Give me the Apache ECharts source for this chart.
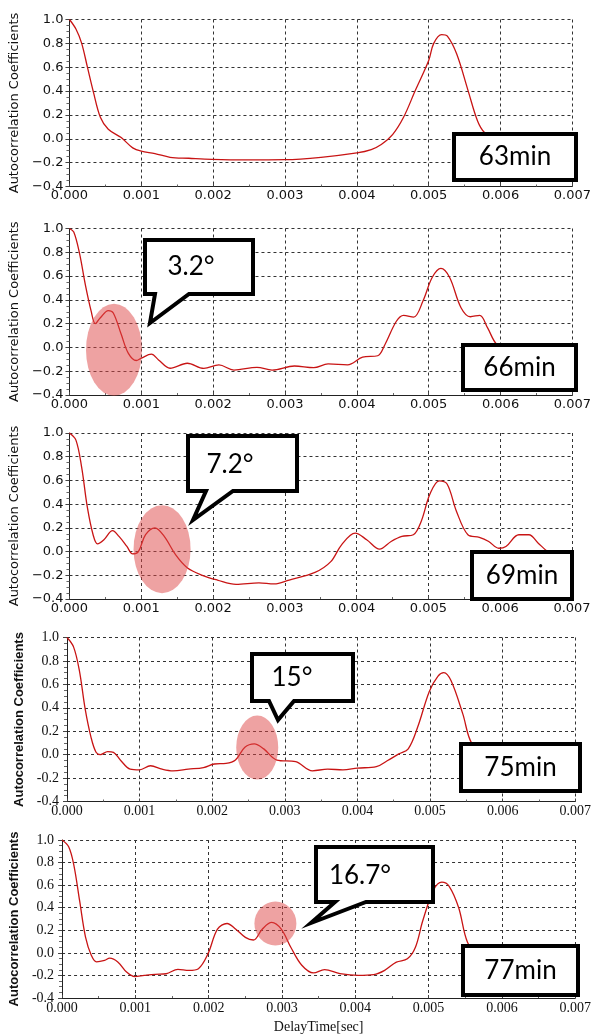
<!DOCTYPE html>
<html>
<head>
<meta charset="utf-8">
<script src="https://cdn.jsdelivr.net/npm/echarts@6/dist/echarts.min.js"></script>
<style>
  html, body { margin: 0; padding: 0; background: #ffffff; }
  #chart { width: 594px; height: 1035px; }
</style>
</head>
<body>
<div id="chart"></div>
<script>
// Autocorrelation of the signal at five elapsed times (delay in seconds)
const xTicks = [0, 0.001, 0.002, 0.003, 0.004, 0.005, 0.006, 0.007];
const yTicks = [-0.4, -0.2, 0.0, 0.2, 0.4, 0.6, 0.8, 1.0];
const timeLabels = ['63min', '66min', '69min', '75min', '77min'];
const angleLabels = [null, '3.2°', '7.2°', '15°', '16.7°'];

const delay63 = [0, 0.00009, 0.00017, 0.00025, 0.00033, 0.00043, 0.00054, 0.00072, 0.00088, 0.001, 0.00119, 0.0014, 0.00166, 0.00198, 0.00245, 0.003, 0.0035, 0.004, 0.0042, 0.00434, 0.0045, 0.00465, 0.00481, 0.005, 0.00507, 0.00518, 0.00526, 0.00539, 0.00555, 0.00568, 0.00578, 0.006, 0.0065, 0.007];
const coef63 = [1.0, 0.92, 0.80, 0.60, 0.40, 0.18, 0.08, 0.01, -0.076, -0.104, -0.124, -0.155, -0.163, -0.172, -0.177, -0.175, -0.155, -0.118, -0.09, -0.048, 0.037, 0.18, 0.40, 0.656, 0.80, 0.873, 0.86, 0.71, 0.40, 0.15, 0.05, -0.05, -0.12, -0.15];

const delay66 = [0, 0.00006, 0.00014, 0.00022, 0.0003, 0.00036, 0.00043, 0.00054, 0.00061, 0.00072, 0.00082, 0.00093, 0.001, 0.00114, 0.00124, 0.0014, 0.00164, 0.00187, 0.00208, 0.00229, 0.00261, 0.00282, 0.00313, 0.0034, 0.0036, 0.00387, 0.00408, 0.00429, 0.00439, 0.00455, 0.00465, 0.00479, 0.00492, 0.00505, 0.00517, 0.00529, 0.00545, 0.00558, 0.00571, 0.00582, 0.00595, 0.0062, 0.0066, 0.007];
const coef66 = [1.0, 0.97, 0.79, 0.53, 0.31, 0.20, 0.25, 0.31, 0.29, 0.11, -0.05, -0.11, -0.09, -0.057, -0.105, -0.175, -0.133, -0.176, -0.147, -0.19, -0.167, -0.19, -0.156, -0.17, -0.139, -0.147, -0.082, -0.07, 0.023, 0.22, 0.27, 0.255, 0.39, 0.59, 0.665, 0.59, 0.334, 0.258, 0.27, 0.164, 0.023, -0.07, -0.1, -0.1];

const delay69 = [0, 0.00009, 0.00017, 0.00025, 0.00033, 0.00039, 0.00048, 0.0006, 0.00069, 0.0008, 0.00088, 0.00096, 0.00106, 0.00119, 0.00132, 0.00148, 0.00164, 0.00185, 0.00206, 0.00232, 0.00264, 0.00285, 0.00306, 0.00342, 0.00364, 0.00379, 0.00398, 0.00414, 0.00432, 0.00448, 0.00463, 0.00479, 0.0049, 0.00502, 0.00515, 0.00526, 0.00539, 0.00555, 0.00571, 0.00584, 0.00598, 0.00608, 0.00626, 0.0064, 0.00653, 0.00666, 0.0068, 0.007];
const coef69 = [1.0, 0.94, 0.71, 0.37, 0.14, 0.065, 0.10, 0.176, 0.128, 0.043, -0.02, 0.0, 0.142, 0.20, 0.128, -0.028, -0.136, -0.20, -0.24, -0.276, -0.264, -0.273, -0.24, -0.176, -0.085, 0.057, 0.156, 0.10, 0.02, 0.085, 0.128, 0.142, 0.256, 0.483, 0.597, 0.57, 0.341, 0.142, 0.12, 0.085, 0.028, 0.043, 0.142, 0.142, 0.071, 0.0, -0.05, -0.08];

const delay75 = [0, 0.00009, 0.00017, 0.00025, 0.00033, 0.0004, 0.00046, 0.00056, 0.00064, 0.00074, 0.00087, 0.001, 0.00115, 0.00131, 0.00146, 0.00167, 0.00188, 0.00203, 0.00219, 0.00232, 0.00245, 0.00258, 0.00271, 0.00289, 0.00315, 0.00338, 0.00359, 0.0038, 0.004, 0.00426, 0.00441, 0.00457, 0.0047, 0.00483, 0.00499, 0.00511, 0.00519, 0.00529, 0.00545, 0.00558, 0.0058, 0.006, 0.0065, 0.007];
const coef75 = [1.0, 0.92, 0.72, 0.39, 0.15, 0.02, 0.0, 0.026, 0.02, -0.05, -0.124, -0.13, -0.095, -0.124, -0.138, -0.124, -0.11, -0.08, -0.075, -0.046, 0.063, 0.092, 0.049, -0.046, -0.06, -0.138, -0.124, -0.13, -0.115, -0.103, -0.052, 0.006, 0.05, 0.236, 0.54, 0.67, 0.70, 0.63, 0.35, 0.09, 0.0, -0.08, -0.12, -0.13];

const delay77 = [0, 0.00009, 0.00016, 0.00024, 0.00032, 0.0004, 0.00047, 0.00058, 0.00065, 0.00076, 0.00088, 0.00099, 0.00112, 0.00127, 0.00142, 0.00158, 0.00173, 0.00186, 0.00199, 0.00212, 0.00225, 0.00237, 0.0025, 0.00261, 0.00273, 0.00286, 0.00299, 0.00312, 0.00327, 0.00343, 0.00358, 0.00379, 0.00404, 0.00425, 0.0044, 0.00456, 0.00471, 0.00482, 0.00492, 0.00507, 0.00518, 0.00528, 0.00541, 0.00553, 0.0057, 0.006, 0.0065, 0.007];
const coef77 = [1.0, 0.94, 0.78, 0.46, 0.14, -0.023, -0.08, -0.067, -0.047, -0.08, -0.17, -0.21, -0.20, -0.19, -0.185, -0.146, -0.155, -0.14, -0.009, 0.21, 0.26, 0.21, 0.137, 0.114, 0.21, 0.27, 0.21, 0.05, -0.11, -0.178, -0.149, -0.184, -0.20, -0.193, -0.155, -0.082, -0.053, 0.05, 0.284, 0.56, 0.626, 0.59, 0.40, 0.094, -0.05, -0.15, -0.2, -0.2];

// Highlighted feature in each panel, in data coordinates
const highlightAt = [null, [0.00062, -0.02], [0.00129, 0.02], [0.00262, 0.06], [0.00291, 0.26]];

const delays = [delay63, delay66, delay69, delay75, delay77];
const coefs = [coef63, coef66, coef69, coef75, coef77];

// Panel layout (pixels) and typography
const panels = [
  { left: 69,  right: 19,  top: 19.5, height: 167, font: 'DejaVu Sans', size: 13, minus: '\u2212', margin: 6, titleFont: 'DejaVu Sans', titleWeight: 'normal', titleSize: 13, gap: 47 },
  { left: 69,  right: 19,  top: 228.5, height: 166.5, font: 'DejaVu Sans', size: 13, minus: '\u2212', margin: 6, titleFont: 'DejaVu Sans', titleWeight: 'normal', titleSize: 13, gap: 47 },
  { left: 67.5, right: 22, top: 433, height: 166, font: 'DejaVu Sans', size: 13, minus: '\u2212', margin: 6, titleFont: 'DejaVu Sans', titleWeight: 'normal', titleSize: 13, gap: 46 },
  { left: 67,  right: 14.5, top: 637.5, height: 164, font: 'Liberation Serif', size: 14, minus: '-', margin: 8, titleFont: 'Liberation Sans', titleWeight: 'bold', titleSize: 13, gap: 39 },
  { left: 62,  right: 16.5, top: 840, height: 160, font: 'Liberation Serif', size: 14, minus: '-', margin: 8, titleFont: 'Liberation Sans', titleWeight: 'bold', titleSize: 13, gap: 38 }
];

// Callout boxes and speech bubbles (pixels)
const boxes = [
  [454, 134, 576, 180],
  [463, 345, 576, 390],
  [472, 552, 572, 599],
  [461, 744, 580, 791],
  [463, 946, 578, 995]
];
const bubbles = [
  null,
  { r: [145, 240, 253, 294], base: [155, 189], tip: [150, 323], text: [191, 267] },
  { r: [188, 436, 297, 491], base: [206, 233], tip: [193, 520], text: [230, 465] },
  { r: [252, 654, 353, 701], base: [269, 294], tip: [278, 720], text: [292, 678] },
  { r: [316, 847, 433, 902], base: [335, 366], tip: [311, 923], text: [360, 876] }
];
const ellipseSize = [null, [28, 46], [28.5, 44], [21, 32], [21, 22]];

const grids = [], xAxes = [], yAxes = [], series = [];
panels.forEach((p, i) => {
  grids.push({ left: p.left, right: p.right, top: p.top, height: p.height });
  const lab = { fontFamily: p.font, fontSize: p.size, color: '#111' };
  xAxes.push({
    type: 'value', gridIndex: i, min: xTicks[0], max: xTicks[xTicks.length - 1], interval: 0.001,
    axisLine: { onZero: false, lineStyle: { color: '#222', width: 1 } },
    axisTick: { show: true, inside: true, length: 3, lineStyle: { color: '#444' } },
    minorTick: { show: true, splitNumber: 2, length: 2, lineStyle: { color: '#666' } },
    axisLabel: Object.assign({ margin: 3, formatter: v => v.toFixed(3) }, lab),
    splitLine: { show: true, lineStyle: { color: '#333', type: [3, 3], width: 1 } },
    name: i === 4 ? 'DelayTime[sec]' : '',
    nameLocation: 'middle', nameGap: 22,
    nameTextStyle: { fontFamily: 'Liberation Serif', fontSize: 14, color: '#111' }
  });
  yAxes.push({
    type: 'value', gridIndex: i, min: yTicks[0], max: yTicks[yTicks.length - 1], interval: 0.2,
    axisLine: { lineStyle: { color: '#222', width: 1 } },
    axisTick: { show: true, length: 4, lineStyle: { color: '#444' } },
    minorTick: { show: true, splitNumber: 4, length: 3, lineStyle: { color: '#666' } },
    axisLabel: Object.assign({ margin: p.margin, formatter: v => (v < 0 ? p.minus : '') + Math.abs(v).toFixed(1) }, lab),
    splitLine: { show: true, lineStyle: { color: '#333', type: [3, 3], width: 1 } },
    name: 'Autocorrelation Coefficients', nameLocation: 'middle', nameGap: p.gap, nameRotate: 90,
    nameTextStyle: { fontFamily: p.titleFont, fontSize: p.titleSize, fontWeight: p.titleWeight, color: '#111' }
  });
  series.push({
    type: 'line', xAxisIndex: i, yAxisIndex: i,
    data: delays[i].map((t, k) => [t, coefs[i][k]]),
    smooth: 0.35, showSymbol: false, symbol: 'none',
    lineStyle: { color: '#c81414', width: 1.3 },
    z: 3
  });
});

const chart = echarts.init(document.getElementById('chart'), null, { renderer: 'canvas' });
chart.setOption({
  animation: false,
  backgroundColor: '#ffffff',
  grid: grids, xAxis: xAxes, yAxis: yAxes, series: series
});

// Annotations
const elements = [];
highlightAt.forEach((pt, i) => {
  if (!pt) return;
  const c = chart.convertToPixel({ gridIndex: i }, pt);
  elements.push({
    type: 'circle', x: c[0], y: c[1], scaleX: ellipseSize[i][0], scaleY: ellipseSize[i][1],
    shape: { cx: 0, cy: 0, r: 1 },
    style: { fill: 'rgba(222,70,70,0.5)', stroke: null }, z: 50
  });
});
bubbles.forEach((b) => {
  if (!b) return;
  const [x0, y0, x1, y1] = b.r;
  elements.push({
    type: 'polygon',
    shape: { points: [[x0, y0], [x1, y0], [x1, y1], [b.base[1], y1], b.tip, [b.base[0], y1], [x0, y1]] },
    style: { fill: '#ffffff', stroke: '#000000', lineWidth: 4, lineJoin: 'miter' }, z: 60
  });
});
angleLabels.forEach((t, i) => {
  if (!t) return;
  const b = bubbles[i];
  elements.push({
    type: 'text', x: b.text[0], y: b.text[1],
    style: { text: t, fontFamily: 'Lato', fontSize: 26, fill: '#000', align: 'center', verticalAlign: 'middle' }, z: 61
  });
});
boxes.forEach((r, i) => {
  elements.push({
    type: 'rect', shape: { x: r[0], y: r[1], width: r[2] - r[0], height: r[3] - r[1] },
    style: { fill: '#ffffff', stroke: '#000000', lineWidth: 4 }, z: 60
  });
  elements.push({
    type: 'text', x: (r[0] + r[2]) / 2, y: (r[1] + r[3]) / 2,
    style: { text: timeLabels[i], fontFamily: 'Lato', fontSize: 26, fill: '#000', align: 'center', verticalAlign: 'middle' }, z: 61
  });
});
chart.setOption({ graphic: { elements: elements } });
</script>
</body>
</html>
